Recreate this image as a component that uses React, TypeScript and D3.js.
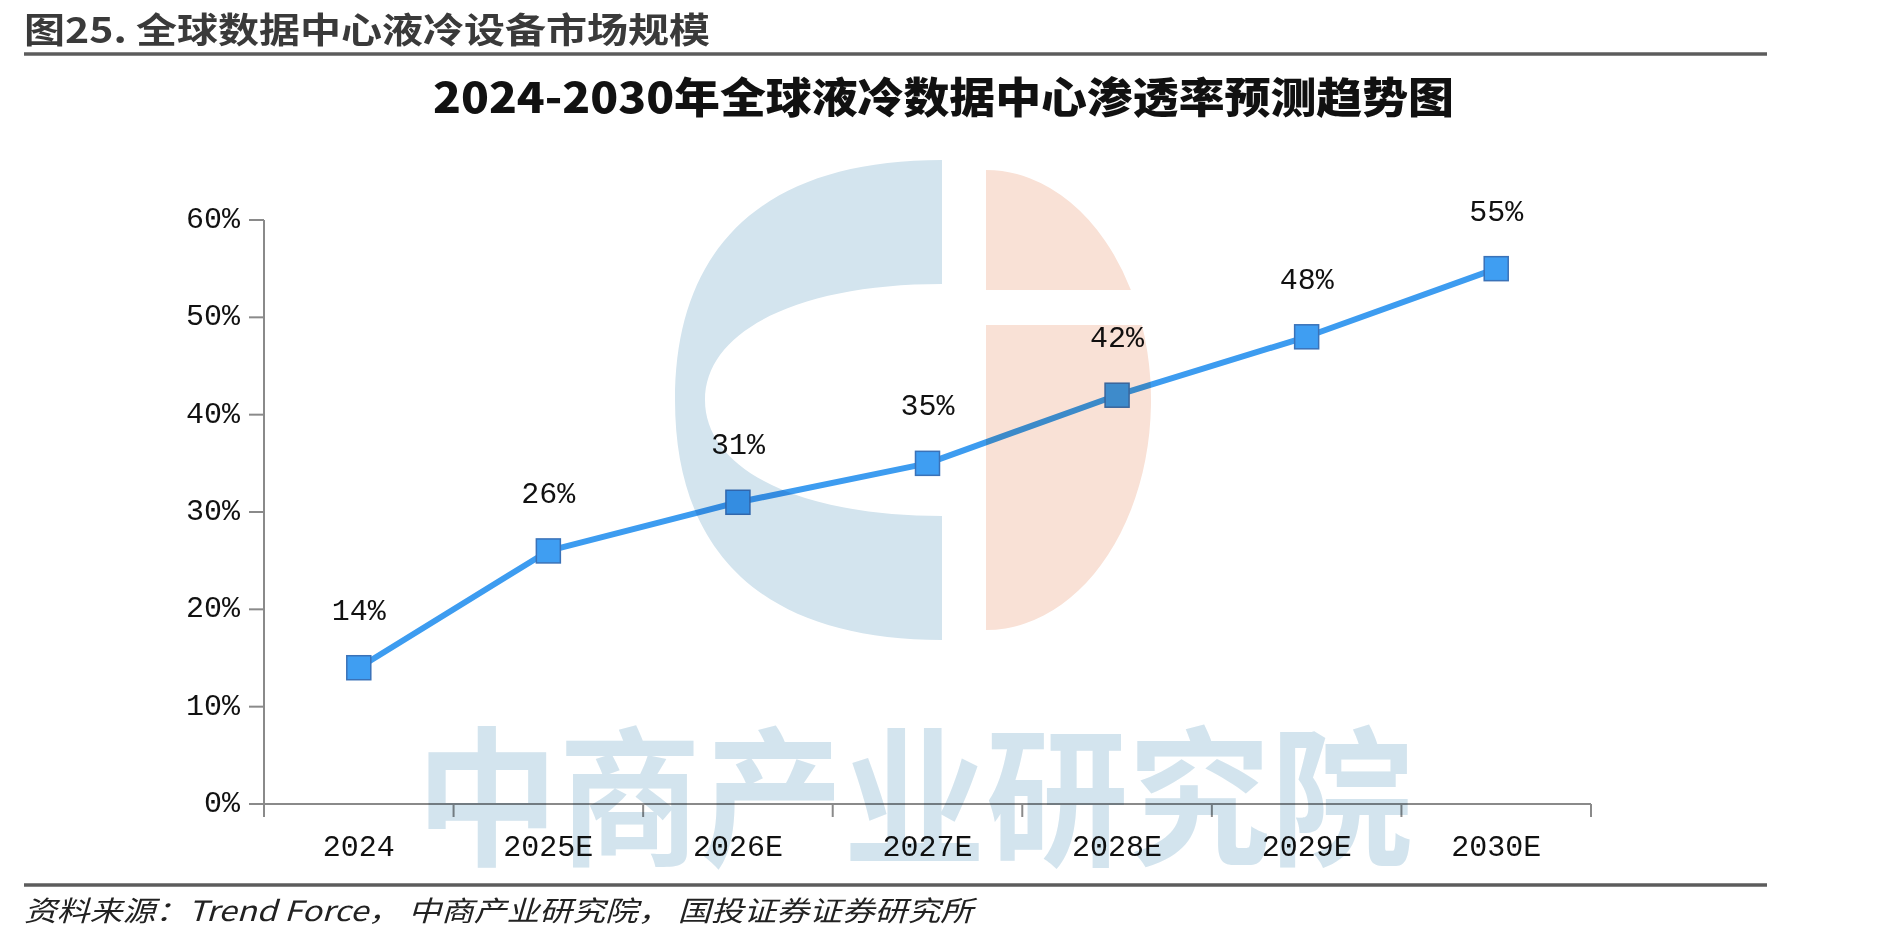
import React from "react";
import * as d3 from "d3";

// Liquid-cooling penetration of data centres, 2024–2030E
const categories = ["2024", "2025E", "2026E", "2027E", "2028E", "2029E", "2030E"];
const penetration = [0.14, 0.26, 0.31, 0.35, 0.42, 0.48, 0.55];
const yTicks = [0, 0.1, 0.2, 0.3, 0.4, 0.5, 0.6];

const W = 1888;
const H = 940;
const plot = { left: 264, right: 1591, top: 220, bottom: 804 };

const CJK = "'Noto Sans CJK SC', 'Noto Sans', sans-serif";
const MONO = "'Liberation Mono', 'DejaVu Sans Mono', monospace";

// point on the right side of an ellipse at a given y
function ellipseX(cx: number, cy: number, rx: number, ry: number, y: number) {
  const dy = (y - cy) / ry;
  return cx + rx * Math.sqrt(Math.max(0, 1 - dy * dy));
}

export default function App() {
  const x = d3
    .scaleBand<string>()
    .domain(categories)
    .range([plot.left, plot.right])
    .paddingInner(0)
    .paddingOuter(0);
  const y = d3.scaleLinear().domain([0, 0.6]).range([plot.bottom, plot.top]);
  const cx = (c: string) => (x(c) as number) + x.bandwidth() / 2;

  const pts = categories.map((c, i) => [cx(c), y(penetration[i])] as [number, number]);
  const linePath = d3.line()(pts) as string;

  const fmt = d3.format(".0%");

  // logo watermark: a light-blue "C" and a split salmon half-disc
  const bluePath =
    "M 942 160 C 760 160, 675 250, 675 400 C 675 550, 760 640, 942 640 " +
    "L 942 516 C 800 516, 705 470, 705 400 C 705 330, 800 284, 942 284 Z";

  const sc = { x: 986, y: 400, rx: 165, ry: 230, gapTop: 290, gapBottom: 325 };
  const topX = ellipseX(sc.x, sc.y, sc.rx, sc.ry, sc.gapTop);
  const botX = ellipseX(sc.x, sc.y, sc.rx, sc.ry, sc.gapBottom);
  const salmonPath =
    `M ${sc.x} ${sc.y - sc.ry} A ${sc.rx} ${sc.ry} 0 0 1 ${topX} ${sc.gapTop} L ${sc.x} ${sc.gapTop} Z ` +
    `M ${sc.x} ${sc.gapBottom} L ${botX} ${sc.gapBottom} A ${sc.rx} ${sc.ry} 0 0 1 ${sc.x} ${sc.y + sc.ry} Z`;

  const axisColor = "#8a8a8a";
  const bandEdges = categories.map((c) => x(c) as number).concat([plot.right]);

  return (
    <div style={{ position: "absolute", left: 0, top: 0, width: W, height: H, background: "#fff" }}>
      <svg width={W} height={H} viewBox={`0 0 ${W} ${H}`} style={{ display: "block" }}>
        <rect width={W} height={H} fill="#fff" />

        {/* figure heading */}
        <text
          x={24}
          y={27}
          dominantBaseline="central"
          fontFamily={CJK}
          fontWeight={700}
          fontSize={35}
          fill="#3a3a3a"
          textLength={686}
          lengthAdjust="spacingAndGlyphs"
        >
          图25. 全球数据中心液冷设备市场规模
        </text>
        <line x1={24} x2={1767} y1={54} y2={54} stroke="#5c5c5c" strokeWidth={3.5} />

        {/* chart title */}
        <text
          x={433}
          y={94}
          dominantBaseline="central"
          fontFamily={CJK}
          fontWeight={900}
          fontSize={42}
          fill="#111"
          textLength={1021}
          lengthAdjust="spacingAndGlyphs"
        >
          2024-2030年全球液冷数据中心渗透率预测趋势图
        </text>

        {/* axes */}
        <g stroke={axisColor} strokeWidth={2} fill="none">
          <line x1={plot.left} x2={plot.left} y1={plot.top} y2={plot.bottom + 13} />
          <line x1={plot.left} x2={plot.right} y1={plot.bottom} y2={plot.bottom} />
          {yTicks.map((t) => (
            <line key={t} x1={plot.left - 15} x2={plot.left} y1={y(t)} y2={y(t)} />
          ))}
          {bandEdges.map((e, i) => (
            <line key={i} x1={e} x2={e} y1={plot.bottom} y2={plot.bottom + 13} />
          ))}
        </g>
        {yTicks.map((t) => (
          <text
            key={t}
            x={plot.left - 24}
            y={y(t)}
            textAnchor="end"
            dominantBaseline="central"
            fontFamily={MONO}
            fontSize={30}
            fill="#111"
          >
            {fmt(t)}
          </text>
        ))}
        {categories.map((c) => (
          <text
            key={c}
            x={cx(c)}
            y={848}
            textAnchor="middle"
            dominantBaseline="central"
            fontFamily={MONO}
            fontSize={30}
            fill="#111"
          >
            {c}
          </text>
        ))}

        {/* series */}
        <path d={linePath} fill="none" stroke="#3d9cf0" strokeWidth={6} strokeLinejoin="round" />
        {pts.map(([px, py], i) => (
          <g key={i}>
            <rect x={px - 12} y={py - 12} width={24} height={24} fill="#3f9ef2" stroke="#3a72b8" strokeWidth={1.5} />
            <text
              x={px}
              y={py - 56}
              textAnchor="middle"
              dominantBaseline="central"
              fontFamily={MONO}
              fontSize={30}
              fill="#111"
            >
              {fmt(penetration[i])}
            </text>
          </g>
        ))}

        {/* watermark */}
        <g style={{ mixBlendMode: "multiply" }}>
          <path d={bluePath} fill="#d3e4ee" />
          <path d={salmonPath} fill="#f9e1d6" />
          <text
            x={416}
            y={788}
            dominantBaseline="central"
            fontFamily={CJK}
            fontWeight={700}
            fontSize={150}
            fill="#d3e4ee"
            textLength={997}
            lengthAdjust="spacingAndGlyphs"
          >
            中商产业研究院
          </text>
        </g>

        {/* source note */}
        <line x1={24} x2={1767} y1={885} y2={885} stroke="#5c5c5c" strokeWidth={3.5} />
        <text
          x={24}
          y={909}
          dominantBaseline="central"
          fontFamily={CJK}
          fontStyle="italic"
          fontSize={28}
          fill="#222"
          textLength={949}
          lengthAdjust="spacingAndGlyphs"
        >
          资料来源：Trend Force， 中商产业研究院， 国投证券证券研究所
        </text>
      </svg>
    </div>
  );
}
